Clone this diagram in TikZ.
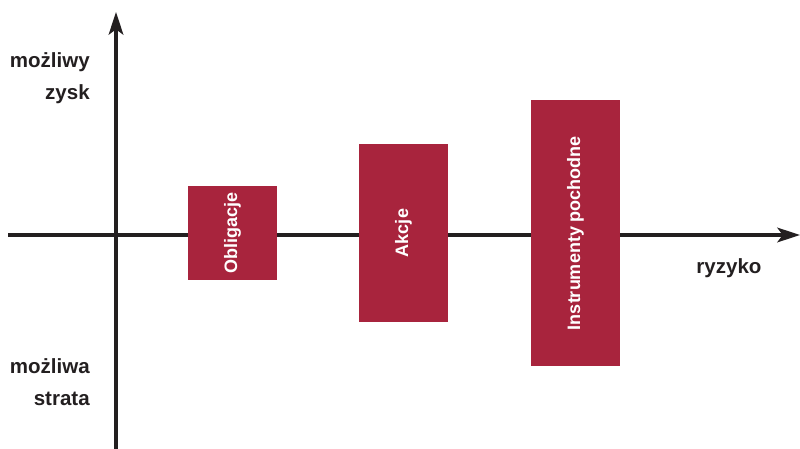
\documentclass[tikz,border=0pt]{standalone}
\usepackage{fontspec}
\setmainfont{Liberation Sans}
\usetikzlibrary{arrows.meta}
\definecolor{boxred}{HTML}{A8243D}
\definecolor{axisgray}{HTML}{231F20}
\begin{document}
\begin{tikzpicture}[x=0.75pt, y=-0.75pt,
		every node/.style={inner sep=0pt},
		ax/.style={draw=axisgray, line width=2.4pt, -{Stealth[length=17pt, width=11pt, inset=4pt]}},
		lbl/.style={font=\fontsize{15.4}{24}\selectfont\bfseries, text=axisgray, align=right},
		bar/.style={fill=boxred, rotate=90, text=white, font=\fontsize{13.5}{16}\selectfont\bfseries}]
	\useasboundingbox (0,0) rectangle (800,449);

	\coordinate (xl) at (8, 235);
	\coordinate (xr) at (800, 235);
	\coordinate (yb) at (116, 449);
	\coordinate (yt) at (116, 12);

	\draw[ax] (xl) -- (xr);
	\draw[ax] (yb) -- (yt);

	\node[bar, minimum width=94*0.75pt, minimum height=89*0.75pt] (obl) at (232.5, 233) {Obligacje};
	\node[bar, minimum width=178*0.75pt, minimum height=89*0.75pt] (akc) at (403.5, 233) {Akcje};
	\node[bar, minimum width=266*0.75pt, minimum height=89*0.75pt] (ins) at (575.5, 233) {Instrumenty pochodne};

	\node[lbl, anchor=base east] (zysk) at (90, 100) {możliwy\\zysk};
	\node[lbl, anchor=base east] (strata) at (90, 405) {możliwa\\strata};
	\node[lbl, anchor=base] (ryz) at (729, 273) {ryzyko};
\end{tikzpicture}
\end{document}
